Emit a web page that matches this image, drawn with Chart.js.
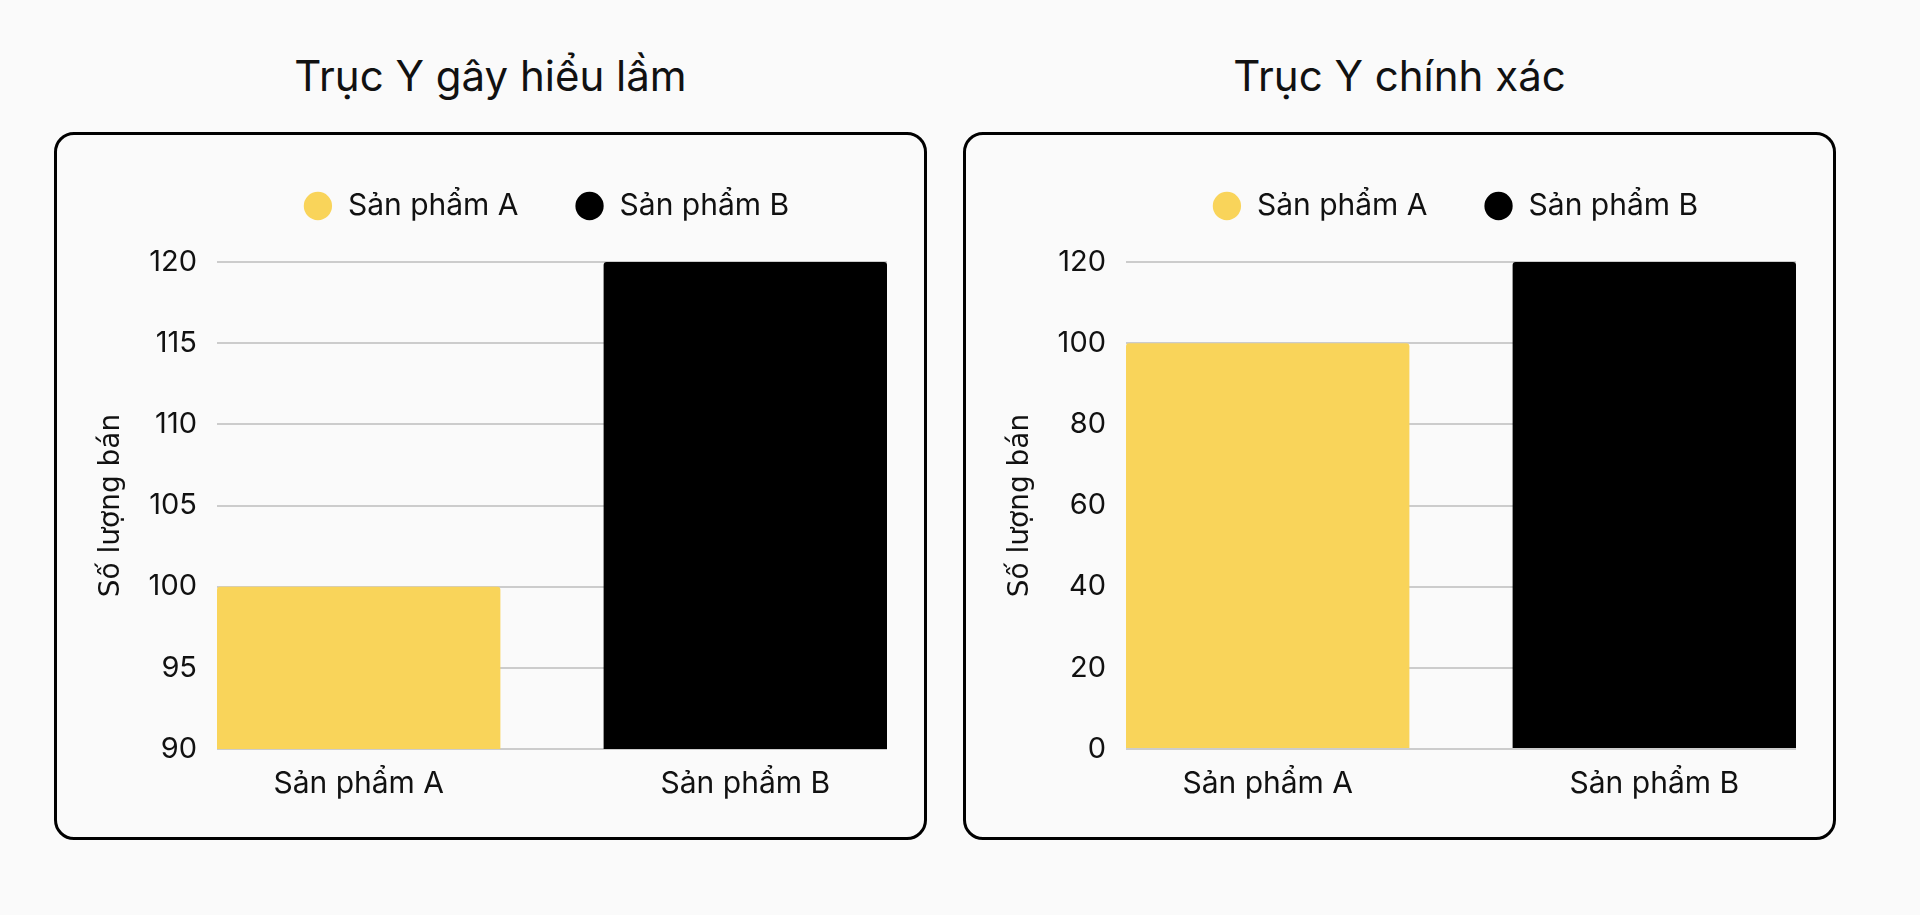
<!DOCTYPE html>
<html lang="vi">
<head>
<meta charset="utf-8">
<title>Trục Y</title>
<script src="https://cdn.jsdelivr.net/npm/chart.js@4.4.1/dist/chart.umd.min.js"></script>
<style>
  html, body { margin: 0; padding: 0; background: #fafafa; }
  body { width: 1920px; height: 915px; position: relative; overflow: hidden; font-family: Inter, "Noto Sans", sans-serif; }
  .title { position: absolute; top: 56px; width: 873px; text-align: center; font-size: 42px; line-height: 40px; color: #111; font-weight: 400; }
  .box { position: absolute; top: 132px; width: 873px; height: 708px; box-sizing: border-box; border: 3px solid #000; border-radius: 20px; background: #fafafa; }
  .box .wrap { position: absolute; left: 0; top: 0; width: 867px; height: 702px; }
</style>
</head>
<body>
<div class="title" style="left:54px">Trục Y gây hiểu lầm</div>
<div class="box" style="left:54px"><div class="wrap"><canvas id="c1"></canvas></div></div>
<div class="title" style="left:963px">Trục Y chính xác</div>
<div class="box" style="left:963px"><div class="wrap"><canvas id="c2"></canvas></div></div>
<script>
// ---- data ----
const categories = ['Sản phẩm A', 'Sản phẩm B'];
const seriesNames = ['Sản phẩm A', 'Sản phẩm B'];
const seriesColors = ['#F9D45A', '#000000'];
const salesMisleading = [100, 120];
const salesAccurate = [100, 120];
const ticksMisleading = [90, 95, 100, 105, 110, 115, 120];
const ticksAccurate = [0, 20, 40, 60, 80, 100, 120];
const yAxisTitle = 'Số lượng bán';

const BAR_FRACTION = 0.733;

// extra space under the legend, and a slight leftward nudge of the legend row
const legendSpacer = {
  id: 'legendSpacer',
  beforeInit(chart) {
    const origFit = chart.legend.fit;
    chart.legend.fit = function () {
      origFit.call(this);
      this.height += 31;
    };
  },
  afterLayout(chart) {
    const lg = chart.legend;
    if (lg) { lg.left -= 6; lg.right -= 6; }
  }
};

function makeChart(canvasId, values, yTicks) {
  const datasets = seriesNames.map((name, i) => ({
    label: name,
    data: [{ x: i, y: values[i] }],
    backgroundColor: seriesColors[i],
    borderRadius: 3,
    borderSkipped: 'start',
    grouped: false,
    barPercentage: BAR_FRACTION,
    categoryPercentage: 1
  }));
  return new Chart(document.getElementById(canvasId), {
    type: 'bar',
    data: { datasets },
    plugins: [legendSpacer],
    options: {
      responsive: true,
      maintainAspectRatio: false,
      animation: false,
      layout: { padding: { top: 0, right: 37, bottom: 18, left: 32 } },
      plugins: {
        legend: {
          position: 'top',
          fullSize: false,
          labels: {
            usePointStyle: true,
            pointStyle: 'circle',
            boxHeight: 20,
            padding: 56,
            color: '#111',
            font: { family: 'Inter', size: 30 }
          }
        },
        tooltip: { enabled: false }
      },
      scales: {
        x: {
          type: 'linear',
          offset: false,
          min: -BAR_FRACTION / 2,
          max: categories.length - 1 + BAR_FRACTION / 2,
          grid: { display: false, drawTicks: false },
          border: { display: false },
          afterBuildTicks: (scale) => { scale.ticks = categories.map((c, i) => ({ value: i })); },
          ticks: {
            padding: 17,
            color: '#111',
            font: { family: 'Inter', size: 30 },
            callback: (v) => categories[v]
          }
        },
        y: {
          min: yTicks[0],
          max: yTicks[yTicks.length - 1],
          afterBuildTicks: (scale) => { scale.ticks = yTicks.map(v => ({ value: v })); },
          afterFit: (scale) => { scale.width = 128; },
          grid: { color: '#cccccc', lineWidth: 2, drawTicks: false },
          border: { display: false },
          ticks: {
            padding: 20,
            color: '#111',
            font: { family: 'Inter', size: 29 }
          },
          title: {
            display: true,
            text: yAxisTitle,
            color: '#111',
            padding: { top: 6, bottom: 0 },
            font: { family: '"DejaVu Sans", sans-serif', size: 28 }
          }
        }
      }
    }
  });
}

makeChart('c1', salesMisleading, ticksMisleading);
makeChart('c2', salesAccurate, ticksAccurate);
</script>
</body>
</html>
